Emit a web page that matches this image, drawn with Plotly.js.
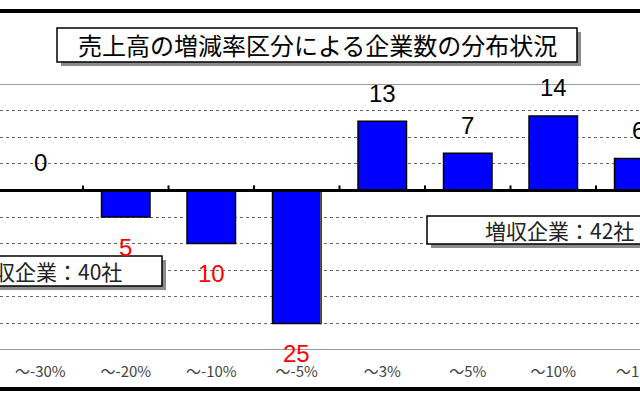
<!DOCTYPE html>
<html>
<head>
<meta charset="utf-8">
<script src="https://cdn.plot.ly/plotly-3.0.1.min.js"></script>
<style>html,body{margin:0;padding:0;background:#fff;}#chart{width:640px;height:400px;}</style>
</head>
<body>
<div id="chart"></div>
<script>
// ---- data ----
const categories = ["～-30%", "～-20%", "～-10%", "～-5%", "～3%", "～5%", "～10%", "～15%"];
const companyCounts = [0, -5, -10, -25, 13, 7, 14, 6];   // negative = decrease group
const chartTitle = "売上高の増減率区分による企業数の分布状況";
const increaseLabel = "増収企業：42社";
const decreaseLabel = "減収企業：40社";

// ---- layout helpers (pixel -> paper) ----
const W = 640, H = 400, T = 84, B = 350;
const px = x => x / W;
const py = y => (B - y) / (B - T);

const shapes = [];
// top / bottom heavy frame lines
shapes.push({type:'line', xref:'paper', yref:'paper', x0:0, x1:1, y0:py(11), y1:py(11), line:{color:'#000', width:4}});
shapes.push({type:'line', xref:'paper', yref:'paper', x0:0, x1:1, y0:py(389), y1:py(389), line:{color:'#000', width:4}});
// plot area top/bottom gray borders
shapes.push({type:'line', xref:'paper', yref:'y', x0:0, x1:1, y0:20, y1:20, line:{color:'#9a9a9a', width:2}});
shapes.push({type:'line', xref:'paper', yref:'y', x0:0, x1:1, y0:-30, y1:-30, line:{color:'#9a9a9a', width:2}});
// thin vertical separator
shapes.push({type:'line', xref:'paper', yref:'y', x0:px(320.5), x1:px(320.5), y0:0, y1:-25, line:{color:'#55584a', width:1}});
// zero axis line
shapes.push({type:'line', xref:'paper', yref:'y', x0:0, x1:1, y0:0, y1:0, line:{color:'#000', width:3}});
// category boundary ticks on the zero line
for (let i = 0; i < categories.length; i++) {
  shapes.push({type:'line', xref:'x', yref:'y', ysizemode:'pixel', yanchor:0, x0:i+0.5, x1:i+0.5, y0:0, y1:5, line:{color:'#000', width:2}});
}
// boxes with drop shadows
function box(x0, y0, x1, y1) {
  shapes.push({type:'rect', xref:'paper', yref:'paper', x0:px(x0+4), x1:px(x1+4), y0:py(y0+4), y1:py(y1+4), fillcolor:'#8c8c8c', line:{width:0}});
  shapes.push({type:'rect', xref:'paper', yref:'paper', x0:px(x0), x1:px(x1), y0:py(y0), y1:py(y1), fillcolor:'#fff', line:{color:'#000', width:1.5}});
}
box(57, 28, 577, 62);
box(427, 216, 720, 244);
box(-60, 256, 162, 286);

const annotations = [];
annotations.push({xref:'paper', yref:'paper', x:px(317), y:py(45), xanchor:'center', yanchor:'middle', showarrow:false,
  text: chartTitle, font:{family:'Noto Sans CJK JP', size:24, color:'#000'}});
annotations.push({xref:'paper', yref:'paper', x:px(483), y:py(230), xanchor:'left', yanchor:'middle', showarrow:false,
  text: increaseLabel, font:{family:'Noto Sans CJK JP', size:21, color:'#222'}});
annotations.push({xref:'paper', yref:'paper', x:px(124), y:py(271), xanchor:'right', yanchor:'middle', showarrow:false,
  text: decreaseLabel, font:{family:'Noto Sans CJK JP', size:21, color:'#222'}});
// value labels
categories.forEach((c, i) => {
  const v = companyCounts[i];
  annotations.push({xref:'x', yref:'y', x:c, y:v, showarrow:false, xanchor:'center', yanchor:'middle',
    yshift: v < 0 ? -30 : 28, text: String(Math.abs(v)),
    font:{family:'Liberation Sans', size:24, color: v < 0 ? '#ff0000' : '#000'}});
});

const trace = {
  type:'bar', x:categories, y:companyCounts, width:0.567,
  marker:{color:'#0000ff', line:{color:'#000', width:1.5}},
  hoverinfo:'skip'
};

const layout = {
  width:W, height:H, margin:{l:0, r:0, t:T, b:H-B},
  paper_bgcolor:'#fff', plot_bgcolor:'#fff', showlegend:false,
  xaxis:{type:'category', range:[-0.4708, 7.0145], showgrid:false, zeroline:false, showline:false,
    ticks:'outside', ticklen:8, tickcolor:'rgba(0,0,0,0)',
    tickfont:{family:'Noto Sans CJK JP', size:15, color:'#444'}},
  yaxis:{range:[-30, 20], dtick:5, showticklabels:false, zeroline:false, showline:false,
    showgrid:true, gridcolor:'#6a6a6a', griddash:'dot', gridwidth:1},
  shapes:shapes, annotations:annotations, bargap:0.4
};

Plotly.newPlot('chart', [trace], layout, {staticPlot:true, displayModeBar:false});
</script>
</body>
</html>
